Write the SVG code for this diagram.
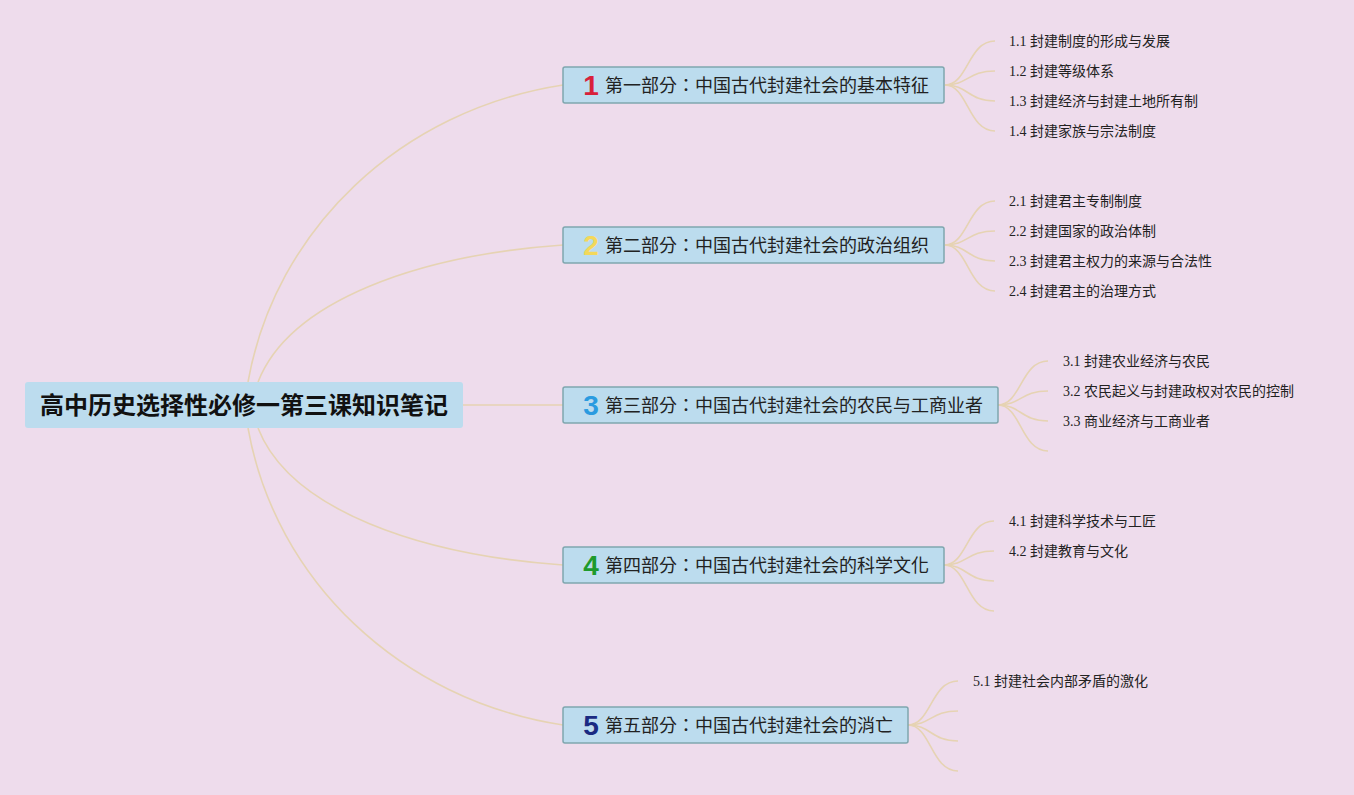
<svg xmlns="http://www.w3.org/2000/svg" width="1354" height="795" viewBox="0 0 1354 795">
<style>
.bg{fill:#eedcec}
.conn path{fill:none;stroke:#e6d3b3;stroke-width:1.6}
.root rect{fill:#bcdcee}
.br rect{fill:#bcdcee;stroke:#7fa6ae;stroke-width:1.5}
.rt{font-family:"Noto Sans CJK SC",sans-serif;font-size:24px;font-weight:bold;fill:#111}
.bt{font-family:"Noto Sans CJK TC","Noto Sans CJK SC",sans-serif;font-size:18px;fill:#222}
.num{font-family:"Liberation Sans","Noto Sans",sans-serif;font-size:28px;font-weight:bold}
.lt{font-family:"Liberation Serif","Noto Sans CJK SC",serif;font-size:14px;fill:#222}
</style>
<rect class="bg" width="1354" height="795"/>
<g id="connectors" class="conn">
<path d="M248,382 C275,230 400,110 563,85"/>
<path d="M258,382 C290,300 420,255 563,245"/>
<path d="M463,405 L563,405"/>
<path d="M258,428 C290,510 420,555 563,565"/>
<path d="M248,428 C275,580 400,700 563,725"/>
<path d="M945,85 C968,85 968,41 995,41"/>
<path d="M945,85 C968,85 968,71 995,71"/>
<path d="M945,85 C968,85 968,101 995,101"/>
<path d="M945,85 C968,85 968,131 995,131"/>
<path d="M945,245 C968,245 968,201 995,201"/>
<path d="M945,245 C968,245 968,231 995,231"/>
<path d="M945,245 C968,245 968,261 995,261"/>
<path d="M945,245 C968,245 968,291 995,291"/>
<path d="M998,405 C1021,405 1021,361 1048,361"/>
<path d="M998,405 C1021,405 1021,391 1048,391"/>
<path d="M998,405 C1021,405 1021,421 1048,421"/>
<path d="M998,405 C1021,405 1021,451 1048,451"/>
<path d="M944,565 C967,565 967,521 994,521"/>
<path d="M944,565 C967,565 967,551 994,551"/>
<path d="M944,565 C967,565 967,581 994,581"/>
<path d="M944,565 C967,565 967,611 994,611"/>
<path d="M908,725 C931,725 931,681 958,681"/>
<path d="M908,725 C931,725 931,711 958,711"/>
<path d="M908,725 C931,725 931,741 958,741"/>
<path d="M908,725 C931,725 931,771 958,771"/>
</g>
<g id="root" class="root">
<rect x="25" y="382" width="438" height="46" rx="3"/>
<text class="rt" x="244" y="414" text-anchor="middle">高中历史选择性必修一第三课知识笔记</text>
</g>
<g id="b1" class="br">
<rect x="563" y="67" width="381" height="36" rx="2"/>
<text class="num" x="591" y="95" text-anchor="middle" fill="#d8213a">1</text>
<text class="bt" x="605" y="92">第一部分：中国古代封建社会的基本特征</text>
</g>
<g id="b2" class="br">
<rect x="563" y="227" width="381" height="36" rx="2"/>
<text class="num" x="591" y="255" text-anchor="middle" fill="#f3d85a">2</text>
<text class="bt" x="605" y="252">第二部分：中国古代封建社会的政治组织</text>
</g>
<g id="b3" class="br">
<rect x="563" y="387" width="435" height="36" rx="2"/>
<text class="num" x="591" y="415" text-anchor="middle" fill="#2a9be0">3</text>
<text class="bt" x="605" y="412">第三部分：中国古代封建社会的农民与工商业者</text>
</g>
<g id="b4" class="br">
<rect x="563" y="547" width="381" height="36" rx="2"/>
<text class="num" x="591" y="575" text-anchor="middle" fill="#1e9a2c">4</text>
<text class="bt" x="605" y="572">第四部分：中国古代封建社会的科学文化</text>
</g>
<g id="b5" class="br">
<rect x="563" y="707" width="345" height="36" rx="2"/>
<text class="num" x="591" y="735" text-anchor="middle" fill="#1a2a82">5</text>
<text class="bt" x="605" y="732">第五部分：中国古代封建社会的消亡</text>
</g>
<g id="l11"><text class="lt" x="1009" y="46">1.1 封建制度的形成与发展</text></g>
<g id="l12"><text class="lt" x="1009" y="76">1.2 封建等级体系</text></g>
<g id="l13"><text class="lt" x="1009" y="106">1.3 封建经济与封建土地所有制</text></g>
<g id="l14"><text class="lt" x="1009" y="136">1.4 封建家族与宗法制度</text></g>
<g id="l21"><text class="lt" x="1009" y="206">2.1 封建君主专制制度</text></g>
<g id="l22"><text class="lt" x="1009" y="236">2.2 封建国家的政治体制</text></g>
<g id="l23"><text class="lt" x="1009" y="266">2.3 封建君主权力的来源与合法性</text></g>
<g id="l24"><text class="lt" x="1009" y="296">2.4 封建君主的治理方式</text></g>
<g id="l31"><text class="lt" x="1063" y="366">3.1 封建农业经济与农民</text></g>
<g id="l32"><text class="lt" x="1063" y="396">3.2 农民起义与封建政权对农民的控制</text></g>
<g id="l33"><text class="lt" x="1063" y="426">3.3 商业经济与工商业者</text></g>
<g id="l41"><text class="lt" x="1009" y="526">4.1 封建科学技术与工匠</text></g>
<g id="l42"><text class="lt" x="1009" y="556">4.2 封建教育与文化</text></g>
<g id="l51"><text class="lt" x="973" y="686">5.1 封建社会内部矛盾的激化</text></g>
</svg>
